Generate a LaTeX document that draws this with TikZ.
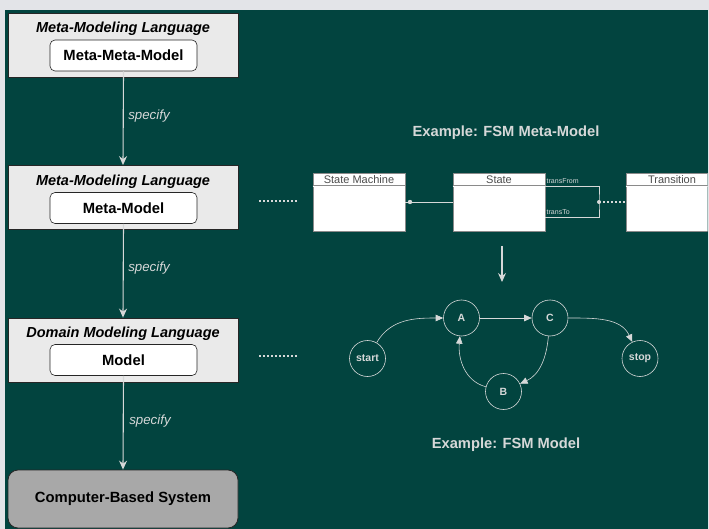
\documentclass[tikz,border=0pt]{standalone}
\usepackage{fontspec}
\setmainfont{Liberation Sans}
\usetikzlibrary{arrows.meta}
\definecolor{teal0}{HTML}{02443F}
\definecolor{band}{HTML}{E3E4E8}
\definecolor{boxfill}{HTML}{EAEAEA}
\definecolor{sysfill}{HTML}{A8A8A8}
\definecolor{lineg}{HTML}{D6D8D8}
\definecolor{umlg}{HTML}{8A8A8A}
\tikzset{
  outerbox/.style={draw=black!85, line width=0.8pt, fill=boxfill, minimum width=230pt, minimum height=64pt, inner sep=0pt},
  innerbox/.style={draw=black!85, line width=0.6pt, fill=white, rounded corners=5pt, minimum width=147pt, minimum height=31pt, inner sep=0pt, font=\fontsize{14.8}{16}\selectfont\bfseries},
  boxtitle/.style={font=\fontsize{14.5}{16}\selectfont\bfseries\itshape, inner sep=0pt},
  spec/.style={font=\fontsize{13.3}{15}\selectfont\itshape, text=lineg, inner sep=0pt},
  flow/.style={draw=lineg, line width=1.1pt, -{Stealth[length=9pt,width=8pt,inset=3pt]}},
  umlbox/.style={draw=umlg, line width=0.6pt, fill=white, minimum width=92pt, minimum height=58pt, inner sep=0pt},
  umltitle/.style={font=\fontsize{11}{12}\selectfont, text=black!70, inner sep=0pt},
  role/.style={font=\fontsize{7}{8}\selectfont, text=lineg, inner sep=0pt, anchor=west},
  state/.style={circle, draw=lineg, line width=0.6pt, minimum size=36pt, inner sep=0pt, text=lineg, font=\fontsize{10.5}{12}\selectfont\bfseries},
  fsm/.style={draw=lineg, line width=0.6pt, -{Triangle[length=7.5pt,width=6.5pt]}},
  example/.style={font=\fontsize{14.7}{16}\selectfont\bfseries, text=lineg, inner sep=0pt},
  dots/.style={draw=lineg, line width=2pt, dash pattern=on 2pt off 2pt}
}
\begin{document}
\begin{tikzpicture}[x=1pt,y=1pt]
\useasboundingbox (0,0) rectangle (709,-529);
\fill[band] (0,0) rectangle (709,-529);
\fill[teal0] (5,-10) rectangle (707.5,-529);

% left column
\node[outerbox] (L1) at (123,-45) {};
\node[boxtitle] (T1) at (123,-29) {Meta-Modeling Language};
\node[innerbox] (M1) at (123.5,-55.5) {Meta-Meta-Model};

\node[outerbox] (L2) at (123,-197.5) {};
\node[boxtitle] (T2) at (123,-181.5) {Meta-Modeling Language};
\node[innerbox] (M2) at (123.5,-208) {Meta-Model};

\node[outerbox] (L3) at (123,-350) {};
\node[boxtitle] (T3) at (123,-334) {Domain Modeling Language};
\node[innerbox] (M3) at (123.5,-360) {Model};

\node[draw=black!85, line width=0.8pt, fill=sysfill, rounded corners=10pt, minimum width=230pt, minimum height=58pt, inner sep=0pt, font=\fontsize{14.8}{16}\selectfont\bfseries] (S) at (123,-499) {Computer-Based System};

\draw[flow] (M1.south) -- (L2.north);
\draw[flow] (M2.south) -- (L3.north);
\draw[flow] (M3.south) -- (S.north);
\node[spec] (sp1) at (149,-116) {specify};
\node[spec] (sp2) at (149,-268) {specify};
\node[spec] (sp3) at (150,-421) {specify};

% dotted leaders
\coordinate (d1a) at (259,-201.5);
\coordinate (d1b) at (297,-201.5);
\coordinate (d2a) at (259,-356);
\coordinate (d2b) at (297,-356);
\draw[dots] (d1a) -- (d1b);
\draw[dots] (d2a) -- (d2b);

% meta-model example
\node[example] (E1) at (506,-133) {Example: FSM Meta-Model};

\node[umlbox] (SM) at (359,-202) {};
\node[umlbox] (ST) at (499,-202) {};
\begin{scope}
\clip (600,-150) rectangle (707.5,-260);
\node[umlbox] (TR) at (672,-202) {};
\draw[umlg, line width=0.5pt, double=white, double distance=0.8pt] (TR.west |- 0,-186) -- (TR.east |- 0,-186);
\node[umltitle] (TRt) at (672,-180) {Transition};
\end{scope}
\draw[umlg, line width=0.5pt, double=white, double distance=0.8pt] (SM.west |- 0,-186) -- (SM.east |- 0,-186);
\draw[umlg, line width=0.5pt, double=white, double distance=0.8pt] (ST.west |- 0,-186) -- (ST.east |- 0,-186);
\node[umltitle] (SMt) at (359,-180) {State Machine};
\node[umltitle] (STt) at (499,-180) {State};

\coordinate (agg) at (410,-202);
\draw[lineg, line width=0.6pt] (SM.east |- agg) -- (ST.west |- agg);
\fill[lineg] (agg) circle (2.2pt);

\coordinate (tf) at (ST.east |- 0,-186.5);
\coordinate (tt) at (ST.east |- 0,-217);
\coordinate (jn) at (599,-202);
\draw[lineg, line width=0.6pt] (tf) -| (jn) |- (tt);
\fill[lineg] (jn) circle (2pt);
\draw[lineg, line width=1.2pt, dash pattern=on 1.5pt off 2.5pt] (jn) -- (TR.west |- jn);
\node[role] (rtf) at (546.5,-181) {transFrom};
\node[role] (rtt) at (546.5,-212) {transTo};

% down arrow
\coordinate (da) at (502,-246);
\coordinate (db) at (502,-282);
\draw[draw=lineg, line width=1.1pt, -{Stealth[length=9pt,width=8pt,inset=3pt]}] (da) -- (db);

% FSM model
\node[state] (start) at (367.5,-358.5) {start};
\node[state] (A) at (461.5,-318) {A};
\node[state] (C) at (550,-318) {C};
\node[state] (stop) at (640,-358.5) {stop};
\node[state] (B) at (503.5,-391.5) {B};
\draw[fsm] (start) to[out=60,in=180] (A);
\draw[fsm] (A) -- (C);
\draw[fsm] (C) to[out=0,in=115] (stop);
\draw[fsm] (C) to[out=-95,in=25] (B);
\draw[fsm] (B) to[out=165,in=-95] (A);

\node[example] (E2) at (506,-445) {Example: FSM Model};
\end{tikzpicture}
\end{document}
